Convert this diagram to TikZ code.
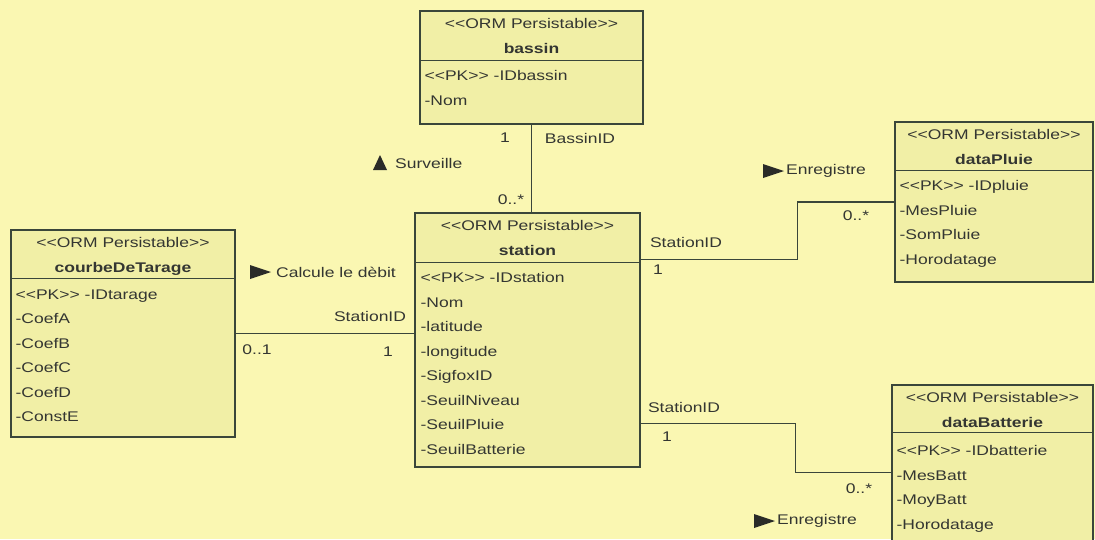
\documentclass[tikz,border=0pt]{standalone}
\usepackage{fontspec}
\setmainfont[FakeStretch=1.25, Ligatures=TeXOff]{Liberation Sans}
\definecolor{fond}{RGB}{250,247,178}
\definecolor{boite}{RGB}{241,239,166}
\definecolor{trait}{RGB}{58,70,58}
\definecolor{texte}{RGB}{52,54,50}
\tikzset{
  classe/.style={draw=trait, fill=boite, line width=1.2pt, inner sep=0pt},
  entete/.style={anchor=north, align=center, inner sep=0pt},
  attributs/.style={anchor=north west, align=left, inner sep=0pt},
  lien/.style={draw=trait, line width=1.1pt},
  etiq/.style={inner sep=0pt},
  fleche/.style={fill=texte!80!black}
}
\begin{document}
\begin{tikzpicture}[x=1pt, y=-1pt, every node/.style={font=\fontsize{14}{24.5}\selectfont, text=texte}]
    \useasboundingbox (0,0) rectangle (1095,539);
    \fill[fond] (0,0) rectangle (1095,539);
    \clip (0,0) rectangle (1095,539);

    % Classes
    \node[classe, minimum width=223pt, minimum height=113pt] (bassin) at (531.5,67.5) {};
    \draw[trait, line width=1.1pt] ([yshift=-50pt]bassin.north west) -- ([yshift=-50pt]bassin.north east);
    \node[entete] (bassinT) at ([yshift=-8pt]bassin.north) {<<ORM Persistable>>\\\textbf{bassin}};
    \node[attributs] (bassinA) at ([xshift=5pt, yshift=-60pt]bassin.north west) {<<PK>> -IDbassin\\-Nom};

    \node[classe, minimum width=225pt, minimum height=254pt] (station) at (527.5,340) {};
    \draw[trait, line width=1.1pt] ([yshift=-50pt]station.north west) -- ([yshift=-50pt]station.north east);
    \node[entete] (stationT) at ([yshift=-8pt]station.north) {<<ORM Persistable>>\\\textbf{station}};
    \node[attributs] (stationA) at ([xshift=6pt, yshift=-60pt]station.north west) {<<PK>> -IDstation\\-Nom\\-latitude\\-longitude\\-SigfoxID\\-SeuilNiveau\\-SeuilPluie\\-SeuilBatterie};

    \node[classe, minimum width=224pt, minimum height=207pt] (courbe) at (123,333.5) {};
    \draw[trait, line width=1.1pt] ([yshift=-49pt]courbe.north west) -- ([yshift=-49pt]courbe.north east);
    \node[entete] (courbeT) at ([yshift=-8pt]courbe.north) {<<ORM Persistable>>\\\textbf{courbeDeTarage}};
    \node[attributs] (courbeA) at ([xshift=5pt, yshift=-60pt]courbe.north west) {<<PK>> -IDtarage\\-CoefA\\-CoefB\\-CoefC\\-CoefD\\-ConstE};

    \node[classe, minimum width=198pt, minimum height=160pt] (pluie) at (994,202) {};
    \draw[trait, line width=1.1pt] ([yshift=-49pt]pluie.north west) -- ([yshift=-49pt]pluie.north east);
    \node[entete] (pluieT) at ([yshift=-8pt]pluie.north) {<<ORM Persistable>>\\\textbf{dataPluie}};
    \node[attributs] (pluieA) at ([xshift=5pt, yshift=-59pt]pluie.north west) {<<PK>> -IDpluie\\-MesPluie\\-SomPluie\\-Horodatage};

    \node[classe, minimum width=201pt, minimum height=175pt] (batt) at (992.5,472.5) {};
    \draw[trait, line width=1.1pt] ([yshift=-48pt]batt.north west) -- ([yshift=-48pt]batt.north east);
    \node[entete] (battT) at ([yshift=-8pt]batt.north) {<<ORM Persistable>>\\\textbf{dataBatterie}};
    \node[attributs] (battA) at ([xshift=5pt, yshift=-61pt]batt.north west) {<<PK>> -IDbatterie\\-MesBatt\\-MoyBatt\\-Horodatage};

    % Associations
    \draw[lien] (bassin.south) -- (bassin.south |- station.north);
    \draw[lien] (courbe.east) -- (courbe.east -| station.west);
    \draw[lien] ([yshift=-47pt]station.north east) -- ++(157,0) |- (pluie.west);
    \draw[lien] ([yshift=44pt]station.south east) -- ++(155,0) |- (batt.west);

    % Multiplicites et roles
    \node[etiq] (m1) at (505,138) {1};
    \node[etiq] (r1) at (580,138) {BassinID};
    \node[etiq] (m2) at (511,200) {0..*};
    \node[etiq] (r2) at (370,316) {StationID};
    \node[etiq] (m3) at (257,350) {0..1};
    \node[etiq] (m4) at (388,352) {1};
    \node[etiq] (r3) at (686,242) {StationID};
    \node[etiq] (m5) at (658,270) {1};
    \node[etiq] (m6) at (856,216) {0..*};
    \node[etiq] (r4) at (684,407) {StationID};
    \node[etiq] (m7) at (667,437) {1};
    \node[etiq] (m8) at (859,489) {0..*};

    % Noms des associations
    \node[etiq, anchor=west] (n1) at (395,163) {Surveille};
    \fill[fleche] (373,170) -- (387,170) -- (380,155) -- cycle;
    \node[etiq, anchor=west] (n2) at (276,272) {Calcule le dèbit};
    \fill[fleche] (250,265) -- (271,272) -- (250,279) -- cycle;
    \node[etiq, anchor=west] (n3) at (786,171) {Enregistre};
    \fill[fleche] (763,164) -- (784,171) -- (763,178) -- cycle;
    \node[etiq, anchor=west] (n4) at (777,521) {Enregistre};
    \fill[fleche] (754,514) -- (775,521) -- (754,528) -- cycle;
\end{tikzpicture}
\end{document}
